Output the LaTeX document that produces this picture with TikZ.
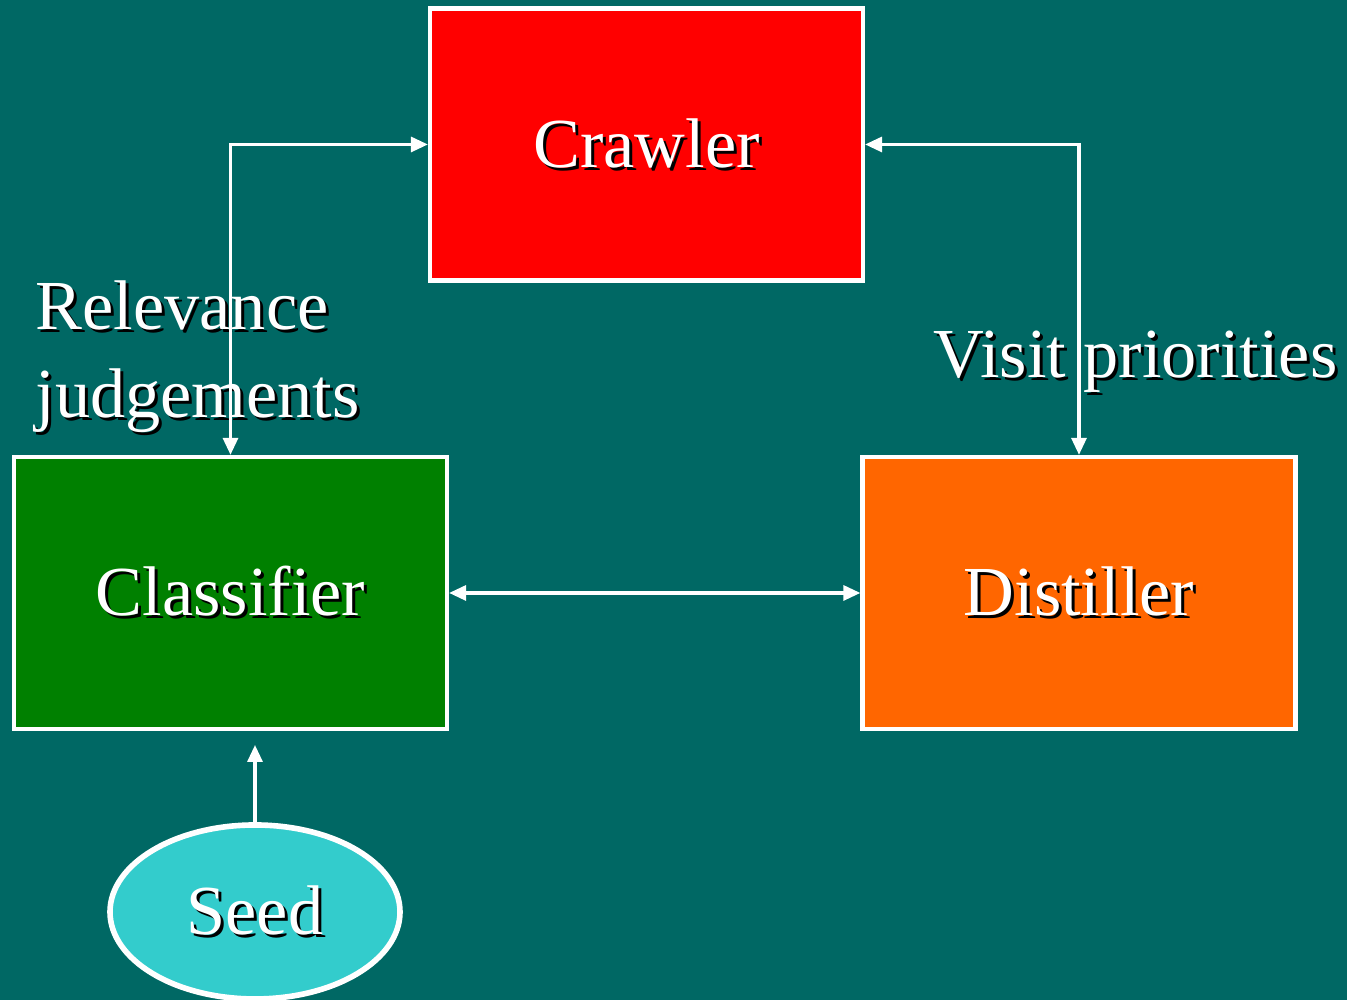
\documentclass[tikz,border=0pt]{standalone}
\usepackage{fontspec}
\setmainfont{Liberation Serif}
\usetikzlibrary{arrows.meta,shapes.geometric}
\definecolor{slideTeal}{RGB}{0,104,100}
\definecolor{crawlerRed}{RGB}{255,0,0}
\definecolor{classifierGreen}{RGB}{0,128,0}
\definecolor{distillerOrange}{RGB}{255,102,0}
\definecolor{seedCyan}{RGB}{51,204,204}
\newcommand{\shadowed}[1]{\makebox[0pt][l]{\hspace{0.03cm}\raisebox{-0.03cm}{\color{black}#1}}#1}

\begin{document}
\begin{tikzpicture}[
    box/.style={draw=white,line width=1.2pt,minimum width=4.33cm,minimum height=2.72cm,text=white,font=\fontsize{20}{24}\selectfont},
    lbl/.style={text=white,anchor=base west,inner sep=0pt,font=\fontsize{20}{24}\selectfont},
    arr/.style={white,line width=0.9pt,{Triangle[width=0.15cm,length=0.17cm]}-{Triangle[width=0.15cm,length=0.17cm]}}
  ]
            % Background
            \fill[slideTeal] (0,0) rectangle (13.47,10);
            \useasboundingbox (0,0) rectangle (13.47,10);

            % Components
            \node[box,fill=crawlerRed] (crawler) at (6.465,8.555) {\shadowed{Crawler}};
            \node[box,fill=classifierGreen] (classifier) at (2.305,4.07) {\shadowed{Classifier}};
            \node[box,fill=distillerOrange] (distiller) at (10.79,4.07) {\shadowed{Distiller}};

            % Seed
            \node[ellipse,draw=white,line width=1.6pt,fill=seedCyan,minimum width=2.9cm,minimum height=1.74cm,text=white,font=\fontsize{20}{24}\selectfont] (seed) at (2.55,0.88) {\shadowed{Seed}};
            \coordinate (seedtip) at (2.55,2.55);

            % Labels
            \node[lbl] (relevance) at (0.35,6.70) {\shadowed{Relevance}};
            \node[lbl] (judgements) at (0.35,5.82) {\shadowed{judgements}};
            \node[lbl] (visit) at (9.33,6.22) {\shadowed{Visit priorities}};

            % Connections
            \draw[arr] (crawler.west) -| (classifier.north);
            \draw[arr] (crawler.east) -| (distiller.north);
            \draw[arr] (classifier.east) -- (distiller.west);
            \draw[arr,{Triangle[width=0.15cm,length=0.17cm]}-] (seedtip) -- (seed.north);
\end{tikzpicture}
\end{document}
